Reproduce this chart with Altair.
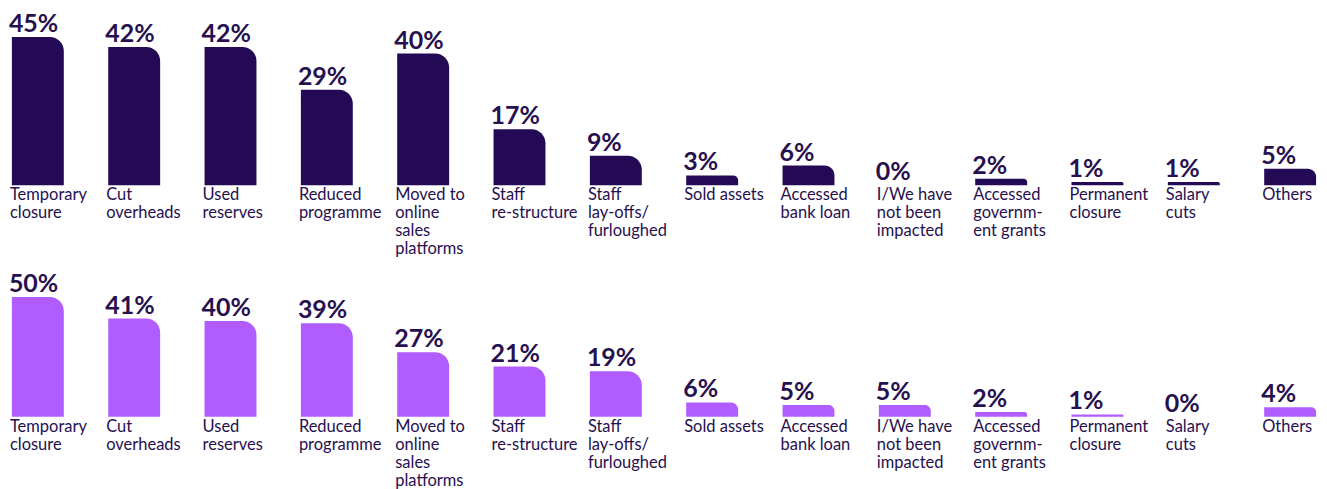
import altair as alt
import pandas as pd

categories = ["c01", "c02", "c03", "c04", "c05", "c06", "c07",
              "c08", "c09", "c10", "c11", "c12", "c13", "c14"]
labels = ["Temporary\nclosure", "Cut\noverheads", "Used\nreserves", "Reduced\nprogramme",
          "Moved to\nonline\nsales\nplatforms", "Staff\nre-structure",
          "Staff\nlay-offs/\nfurloughed", "Sold assets", "Accessed\nbank loan",
          "I/We have\nnot been\nimpacted", "Accessed\ngovernm-\nent grants",
          "Permanent\nclosure", "Salary\ncuts", "Others"]
values_top = [45, 42, 42, 29, 40, 17, 9, 3, 6, 0, 2, 1, 1, 5]
values_bottom = [50, 41, 40, 39, 27, 21, 19, 6, 5, 5, 2, 1, 0, 4]

TEXT = "#27104f"
FONT = "Lato"


def row(values, color, domain, height):
    df = pd.DataFrame({
        "cat": categories,
        "label": labels,
        "value": values,
        "pct": [f"{v}%" for v in values],
    })
    xscale = alt.Scale(paddingInner=0.461, paddingOuter=0.03)
    x = alt.X("cat:N", sort=categories, axis=None, scale=xscale)
    xs = alt.X("cat:N", sort=categories, axis=None, scale=xscale, bandPosition=0)
    y = alt.Y("value:Q", axis=None,
              scale=alt.Scale(domain=domain, nice=False, zero=False))
    bars = alt.Chart(df).mark_bar(color=color, cornerRadiusTopRight=14).encode(
        x=x, y=y, y2=alt.datum(0))
    vals = alt.Chart(df).mark_text(
        align="left", baseline="alphabetic", dx=-3, dy=-5, font=FONT,
        fontWeight="bold", fontSize=25, color=TEXT).encode(
        x=xs, y=y, text="pct:N")
    cats = alt.Chart(df).mark_text(
        align="left", baseline="top", dx=-2, dy=2, font=FONT, fontSize=16.5,
        lineHeight=18, lineBreak="\n", color=TEXT).encode(
        x=xs, y=alt.datum(0), text="label:N")
    return alt.layer(bars, vals, cats).properties(width=1312, height=height)


top = row(values_top, "#240a55", [-23.3, 51.6], 247)
bottom = row(values_bottom, "#b15cff", [-31.6, 64.6], 231)

chart = alt.vconcat(top, bottom, spacing=0).properties(
    padding={"top": 3, "left": 0, "right": 0, "bottom": 0}).configure(
    background="white", view=alt.ViewConfig(strokeWidth=0, stroke="transparent"))

chart.save("out.html", embed_options={"renderer": "svg", "actions": False})
